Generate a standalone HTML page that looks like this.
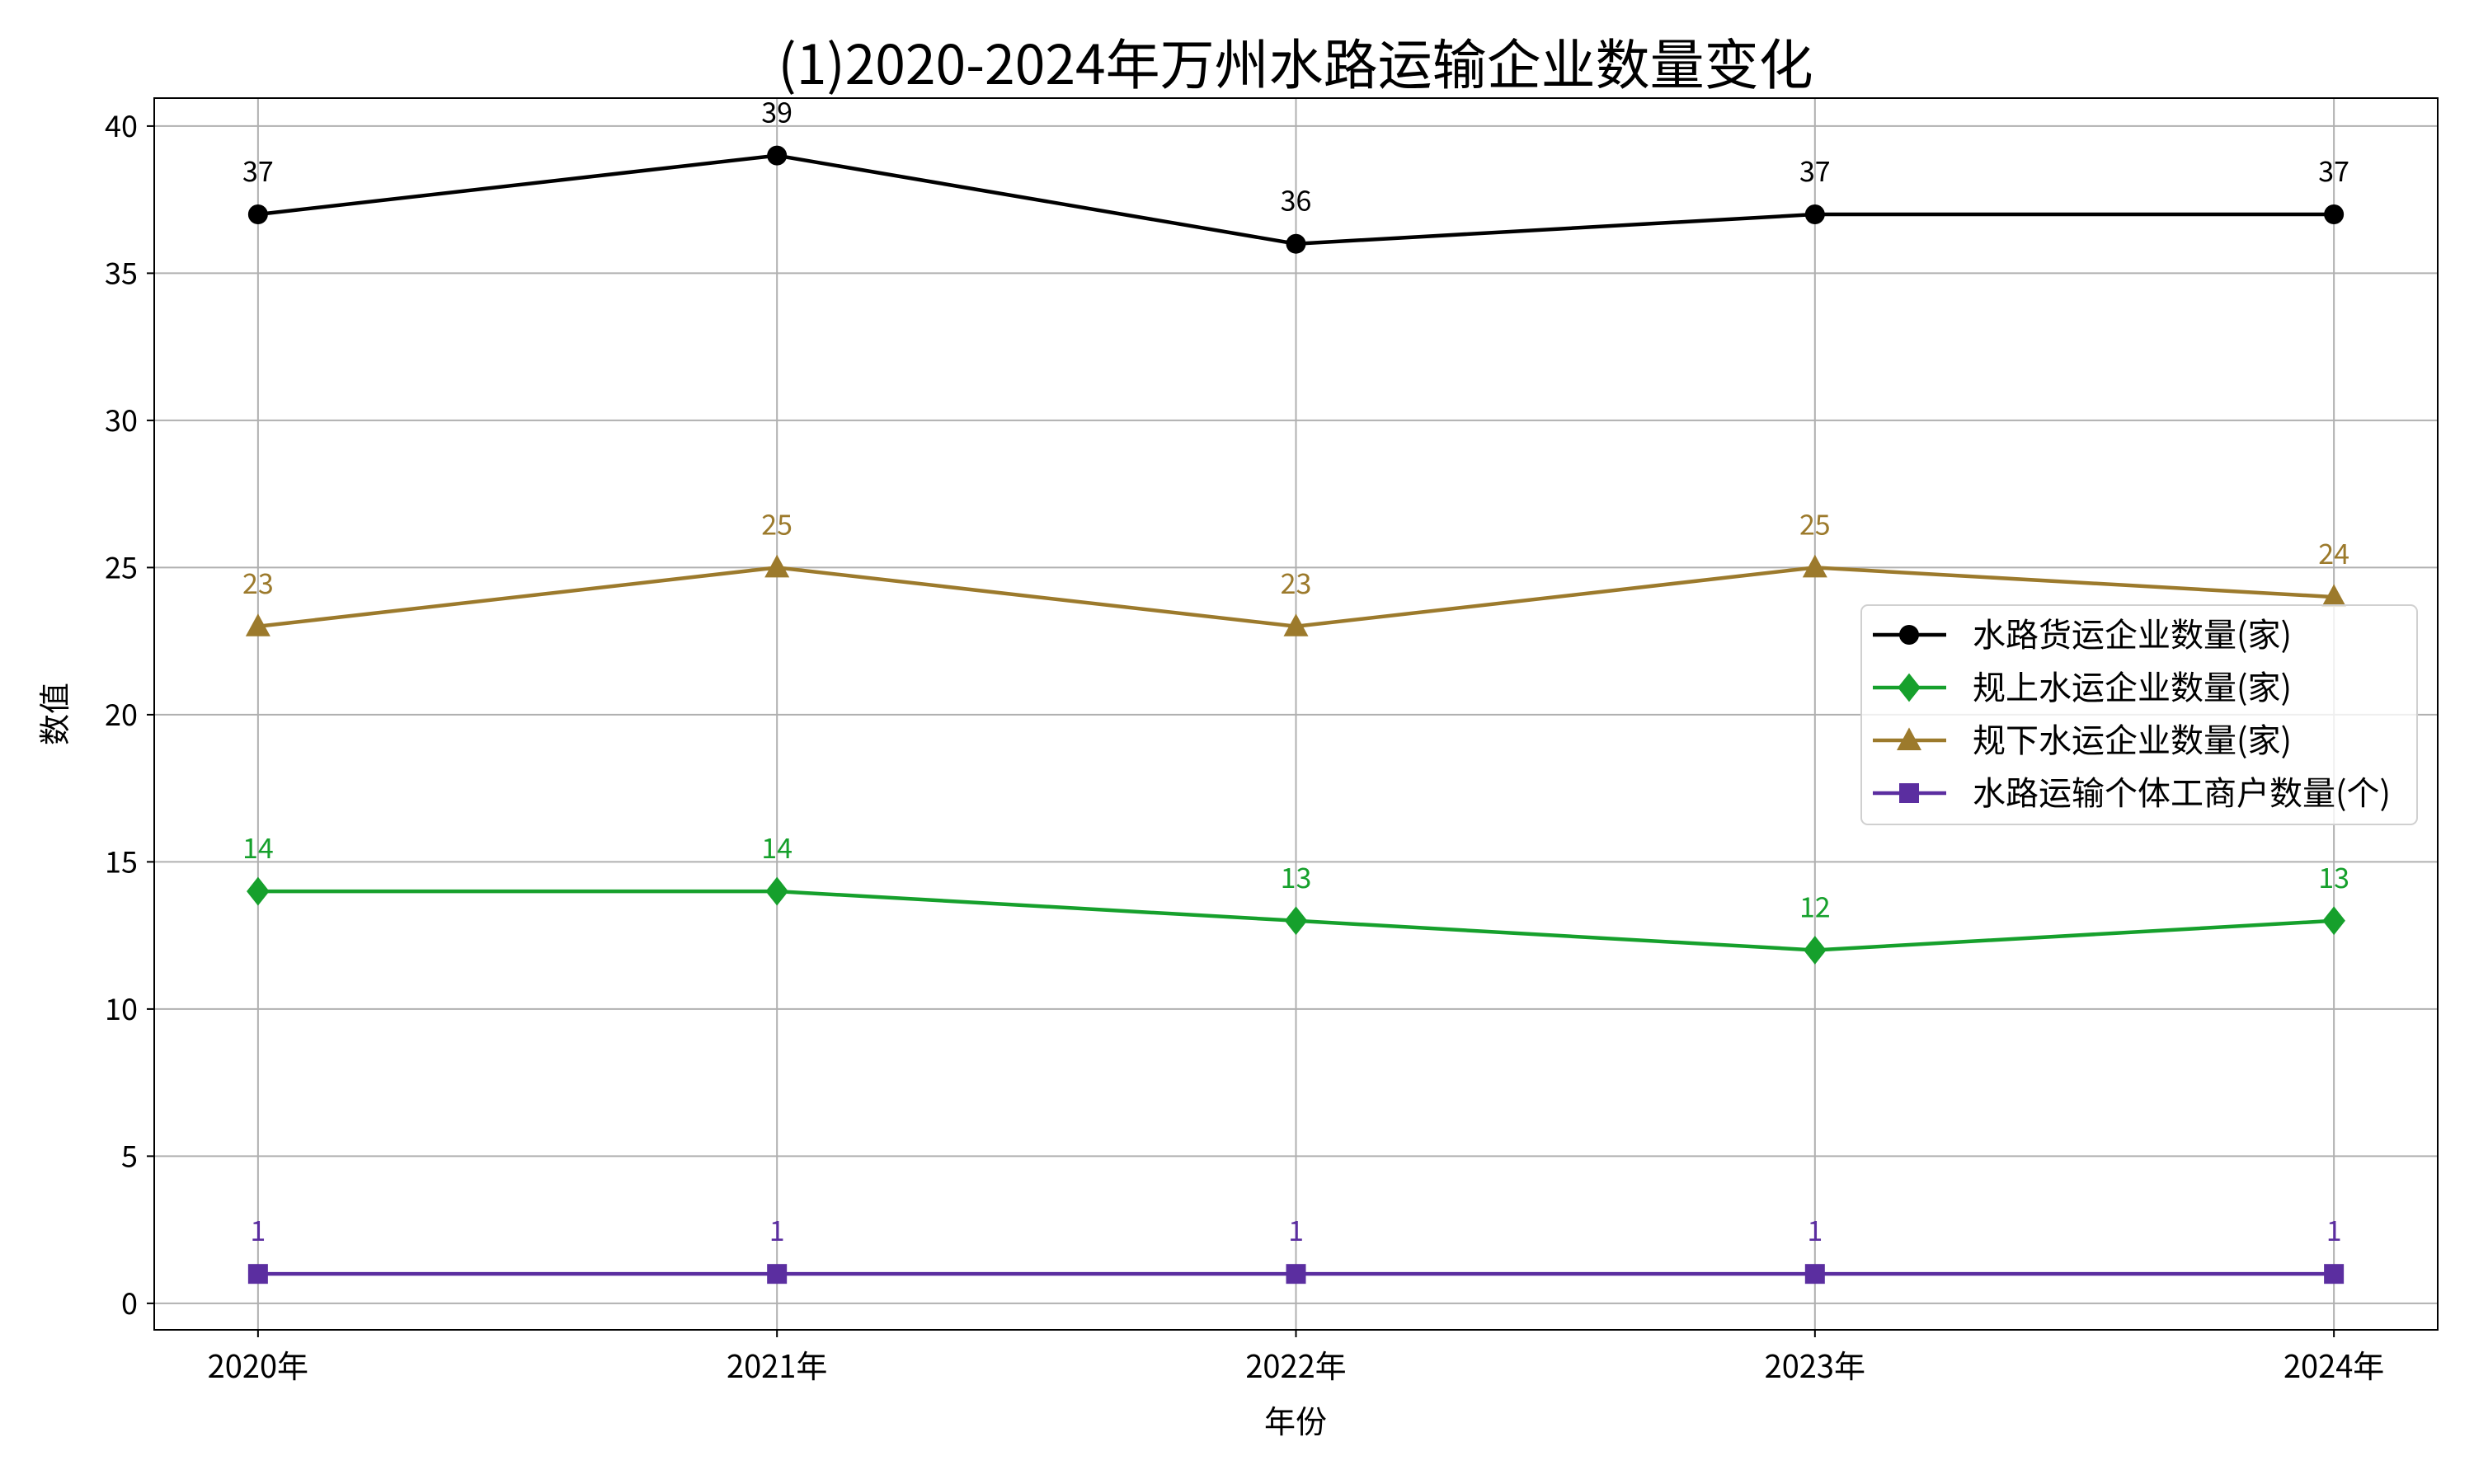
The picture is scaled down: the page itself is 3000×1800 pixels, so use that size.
<!DOCTYPE html>
<html><head><meta charset="utf-8">
<style>
html,body{margin:0;padding:0;background:#fff;}
svg{display:block;font-family:"Noto Sans CJK SC","Liberation Sans",sans-serif;}
</style></head>
<body>
<svg id="chart" width="3000" height="1800" viewBox="0 0 3000 1800"></svg>
<script>
const categories = ["2020年","2021年","2022年","2023年","2024年"];
const seriesNames = ["水路货运企业数量(家)","规上水运企业数量(家)","规下水运企业数量(家)","水路运输个体工商户数量(个)"];
const cargoValues = [37,39,36,37,37];
const aboveValues = [14,14,13,12,13];
const belowValues = [23,25,23,25,24];
const individualValues = [1,1,1,1,1];
const yTicks = [0,5,10,15,20,25,30,35,40];

const NS="http://www.w3.org/2000/svg";
const svg=document.getElementById('chart');
const L=187,R=2956,T=119,B=1613;
const yMin=-0.9,yMax=40.95,xMin=-0.2,xMax=4.2;
const xs=i=>L+(i-xMin)/(xMax-xMin)*(R-L);
const ys=v=>B-(v-yMin)/(yMax-yMin)*(B-T);
function mk(tag,attrs,parent){const e=document.createElementNS(NS,tag);for(const k in attrs)e.setAttribute(k,attrs[k]);(parent||svg).appendChild(e);return e;}

yTicks.forEach(v=>{
  const g=mk('line',{x1:L,x2:R,y1:ys(v),y2:ys(v),stroke:'#b0b0b0','stroke-width':2});
  
  
  mk('line',{x1:L-9,x2:L,y1:ys(v),y2:ys(v),stroke:'#000','stroke-width':2});
  const t=mk('text',{x:L-20,y:ys(v)+13,'text-anchor':'end','font-size':36,fill:'#000'});
  t.textContent=v;
  
  
});
categories.forEach((c,i)=>{
  const g=mk('line',{x1:xs(i),x2:xs(i),y1:T,y2:B,stroke:'#b0b0b0','stroke-width':2});
  
  
  mk('line',{x1:xs(i),x2:xs(i),y1:B,y2:B+9,stroke:'#000','stroke-width':2});
  const t=mk('text',{x:xs(i),y:B+58,'text-anchor':'middle','font-size':38,fill:'#000'});
  t.textContent=c;
  
  
});
const frame=mk('rect',{x:L,y:T,width:R-L,height:B-T,fill:'none',stroke:'#000','stroke-width':2});



const colors=['#000000','#16a02c','#9c7a2c','#5b2ea0'];
const allVals=[cargoValues,aboveValues,belowValues,individualValues];
const markers=['circle','diamond','triangle','square'];
function marker(type,x,y,color,parent,size){
  const s=size||12;
  if(type==='circle')return mk('circle',{cx:x,cy:y,r:s,fill:color},parent);
  if(type==='diamond')return mk('polygon',{points:`${x},${y-s*1.45} ${x+s*1.15},${y} ${x},${y+s*1.45} ${x-s*1.15},${y}`,fill:color},parent);
  if(type==='triangle')return mk('polygon',{points:`${x},${y-s*1.3} ${x+s*1.25},${y+s} ${x-s*1.25},${y+s}`,fill:color},parent);
  return mk('rect',{x:x-s,y:y-s,width:2*s,height:2*s,fill:color},parent);
}
allVals.forEach((vals,si)=>{
  const g=mk('g',{});
  
  
  const pts=vals.map((v,i)=>xs(i)+','+ys(v)).join(' ');
  mk('polyline',{points:pts,fill:'none',stroke:colors[si],'stroke-width':4.5},g);
  vals.forEach((v,i)=>{
    const m=marker(markers[si],xs(i),ys(v),colors[si],g);
    
    
    const t=mk('text',{x:xs(i),y:ys(v)-40,'text-anchor':'middle','font-size':34,fill:colors[si]},g);
    t.textContent=v;
    
    
  });
});

const lg=mk('g',{});


mk('rect',{x:2257,y:734,width:674,height:266,rx:8,fill:'#fff','fill-opacity':0.8,stroke:'#d0d0d0','stroke-width':2},lg);
const rowY=[770,834,898,962];
seriesNames.forEach((n,i)=>{
  const e=mk('g',{},lg);
  
  
  mk('line',{x1:2271,x2:2360,y1:rowY[i],y2:rowY[i],stroke:colors[i],'stroke-width':4.5},e);
  marker(markers[i],2315,rowY[i],colors[i],e);
  const t=mk('text',{x:2392,y:rowY[i]+14,'font-size':40,fill:'#000'},e);
  t.textContent=n;
});

const title=mk('text',{x:1571,y:102,'text-anchor':'middle','font-size':66,fill:'#000'});
title.textContent='(1)2020-2024年万州水路运输企业数量变化';


const xl=mk('text',{x:1571,y:1738,'text-anchor':'middle','font-size':38,fill:'#000'});
xl.textContent='年份';


const yl=mk('text',{x:80,y:866,'text-anchor':'middle','font-size':38,fill:'#000',transform:'rotate(-90 80 866)'});
yl.textContent='数值';


</script>
</body></html>
